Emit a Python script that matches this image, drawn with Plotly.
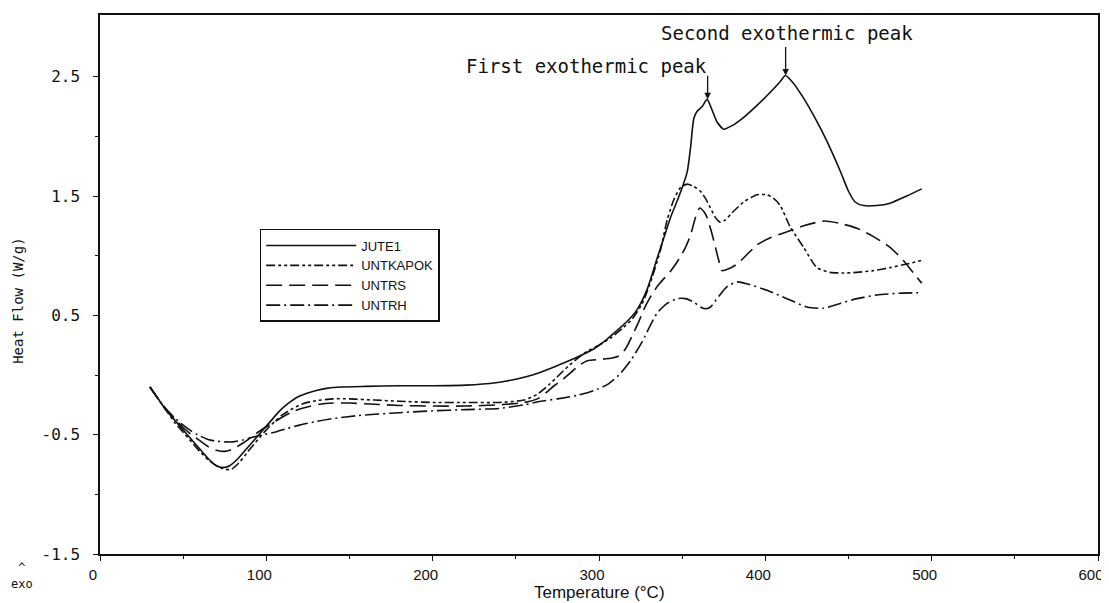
import plotly.graph_objects as go

# ---------------- data ----------------
jute1_t = [30, 35, 40, 45, 50, 55, 60, 65, 70, 74, 78, 83, 88, 93, 98, 103, 108, 113, 118, 124,
           130, 137, 145, 160, 180, 200, 220, 238, 250, 260, 268, 276, 283, 290, 297, 304, 311,
           317, 323, 329, 335, 339, 343, 347, 350, 353, 355, 357, 359, 362, 365, 368, 371, 375,
           380, 387, 395, 403, 409, 412, 416, 423, 430, 437, 445, 450, 454, 459, 467, 475, 485,
           494]
jute1_hf = [-0.10, -0.20, -0.30, -0.38, -0.46, -0.54, -0.62, -0.70, -0.76, -0.775, -0.76, -0.70,
            -0.62, -0.54, -0.46, -0.38, -0.30, -0.24, -0.19, -0.155, -0.13, -0.11, -0.10, -0.095,
            -0.09, -0.09, -0.085, -0.065, -0.035, 0.0, 0.04, 0.085, 0.125, 0.17, 0.22, 0.29, 0.375,
            0.45, 0.55, 0.72, 0.98, 1.15, 1.32, 1.46, 1.57, 1.70, 1.90, 2.15, 2.21, 2.25, 2.31,
            2.22, 2.12, 2.06, 2.09, 2.16, 2.26, 2.37, 2.46, 2.51, 2.46, 2.32, 2.15, 1.96, 1.71,
            1.54, 1.45, 1.42, 1.42, 1.44, 1.50, 1.56]

kapok_t = [30, 35, 40, 45, 50, 55, 60, 65, 70, 75, 79, 84, 89, 95, 100, 105, 110, 116, 122, 130,
           140, 150, 165, 180, 200, 220, 240, 255, 263, 270, 276, 282, 288, 293, 300, 307, 314,
           320, 326, 332, 337, 341, 345, 349, 353, 357, 361, 364, 367, 370, 373, 376, 380, 387,
           395, 401, 405, 409, 415, 423, 431, 439, 447, 455, 465, 475, 485, 494]
kapok_hf = [-0.10, -0.20, -0.30, -0.40, -0.48, -0.56, -0.64, -0.71, -0.76, -0.79, -0.79, -0.73,
            -0.64, -0.54, -0.46, -0.39, -0.33, -0.28, -0.24, -0.215, -0.20, -0.20, -0.21, -0.22,
            -0.23, -0.23, -0.23, -0.21, -0.16, -0.08, 0.0, 0.08, 0.15, 0.20, 0.25, 0.31, 0.39,
            0.47, 0.60, 0.82, 1.05, 1.30, 1.47, 1.57, 1.60, 1.58, 1.54, 1.48, 1.40, 1.32, 1.28,
            1.30, 1.36, 1.45, 1.51, 1.51, 1.48, 1.42, 1.24, 1.07, 0.90, 0.86, 0.855, 0.86, 0.875,
            0.90, 0.93, 0.96]

untrs_t = [30, 35, 40, 45, 50, 55, 60, 65, 70, 75, 80, 86, 92, 98, 104, 110, 117, 124, 132, 140,
           150, 165, 180, 200, 220, 240, 255, 263, 268, 273, 278, 283, 288, 293, 300, 307, 312,
           316, 320, 324, 328, 332, 336, 343, 348, 352, 355, 358, 360.5, 363, 365, 368, 370, 372,
           374, 378, 383, 389, 395, 403, 411, 423, 435, 445, 455, 465, 475, 483, 491, 494]
untrs_hf = [-0.10, -0.20, -0.29, -0.37, -0.44, -0.50, -0.55, -0.60, -0.63, -0.64, -0.62, -0.57,
            -0.51, -0.45, -0.40, -0.35, -0.30, -0.27, -0.245, -0.235, -0.235, -0.245, -0.255,
            -0.26, -0.26, -0.25, -0.23, -0.20, -0.15, -0.09, -0.04, 0.02, 0.08, 0.12, 0.13, 0.14,
            0.16, 0.22, 0.33, 0.45, 0.58, 0.68, 0.76, 0.87, 0.97, 1.07, 1.17, 1.32, 1.40, 1.37,
            1.32, 1.18, 1.07, 0.96, 0.875, 0.89, 0.93, 1.01, 1.09, 1.15, 1.19, 1.25, 1.29, 1.27,
            1.23, 1.16, 1.07, 0.96, 0.82, 0.77]

untrh_t = [30, 35, 40, 45, 50, 55, 60, 65, 70, 75, 80, 86, 92, 98, 105, 112, 120, 130, 140, 155,
           175, 200, 220, 240, 255, 265, 275, 287, 297, 305, 312, 319, 326, 331, 335, 341, 347,
           352, 357, 361, 364, 367, 372, 377, 383, 390, 401, 413, 425, 435, 445, 455, 467, 480,
           494]
untrh_hf = [-0.10, -0.20, -0.29, -0.36, -0.42, -0.47, -0.51, -0.54, -0.555, -0.56, -0.56, -0.545,
            -0.52, -0.50, -0.48, -0.45, -0.42, -0.39, -0.365, -0.34, -0.32, -0.30, -0.29, -0.28,
            -0.25, -0.22, -0.20, -0.17, -0.13, -0.08, 0.0, 0.12, 0.28, 0.42, 0.52, 0.60, 0.64,
            0.64, 0.61, 0.57, 0.555, 0.57, 0.66, 0.74, 0.78, 0.76, 0.71, 0.64, 0.57, 0.56, 0.60,
            0.64, 0.67, 0.685, 0.69]

series_names = ["JUTE1", "UNTKAPOK", "UNTRS", "UNTRH"]

x_ticks = [0, 100, 200, 300, 400, 500, 600]
x_minor = [50, 150, 250, 350, 450, 550]
y_ticks = [-1.5, -0.5, 0.5, 1.5, 2.5]
y_tick_text = ["-1.5", "-0.5", "0.5", "1.5", "2.5"]
y_minor = [-1.0, 0.0, 1.0, 2.0]

first_peak = (365.3, 2.31)
second_peak = (412.2, 2.51)

# ---------------- figure ----------------
INK = "#111111"
MONO = "DejaVu Sans Mono, Liberation Mono, monospace"
SANS = "Liberation Sans Narrow, Liberation Sans, Arial, sans-serif"

styles = [
    dict(dash="solid", width=1.6),
    dict(dash="9px,3px,3px,3px,3px,3px", width=1.6),
    dict(dash="16px,7px", width=1.6),
    dict(dash="14px,4px,2px,4px", width=1.6),
]
xs = [jute1_t, kapok_t, untrs_t, untrh_t]
ys = [jute1_hf, kapok_hf, untrs_hf, untrh_hf]

fig = go.Figure()
for name, x, y, st in zip(series_names, xs, ys, styles):
    fig.add_trace(go.Scatter(
        x=x, y=y, mode="lines", name=name,
        line=dict(color=INK, width=st["width"], dash=st["dash"], shape="spline", smoothing=0.6),
    ))

# page body adds an 8px margin, so the figure is sized/offset to compensate
fig.update_layout(
    width=1101, height=595,
    margin=dict(l=92, r=7, t=5, b=49),
    paper_bgcolor="white", plot_bgcolor="white",
    showlegend=True,
    legend=dict(
        x=0.16, y=0.603, xanchor="left", yanchor="top",
        bordercolor=INK, borderwidth=1.5, bgcolor="white",
        font=dict(family="Liberation Sans, Arial, sans-serif", size=13, color=INK),
        itemwidth=90, tracegroupgap=0,
    ),
    font=dict(color=INK),
)

fig.update_xaxes(
    range=[0, 600], tickmode="array", tickvals=x_ticks,
    ticks="outside", ticklen=5, tickwidth=1.2, tickcolor=INK,
    showline=True, linecolor=INK, linewidth=1.5, mirror=True,
    showgrid=False, zeroline=False,
    tickfont=dict(family=SANS, size=15, color=INK),
    ticklabelstandoff=1, ticklabeloverflow="allow", ticklabelshift=-7,
    minor=dict(tickvals=x_minor, ticks="outside", ticklen=3, tickcolor=INK),
)
fig.update_yaxes(
    range=[-1.5, 3.017], tickmode="array", tickvals=y_ticks, ticktext=y_tick_text,
    ticks="outside", ticklen=5, tickwidth=1.2, tickcolor=INK,
    showline=True, linecolor=INK, linewidth=1.5, mirror=True,
    showgrid=False, zeroline=False,
    tickfont=dict(family=MONO, size=16, color=INK),
    ticklabelstandoff=10,
    minor=dict(tickvals=y_minor, ticks="outside", ticklen=3, tickcolor=INK),
)

# axis titles (placed as annotations to mimic the scanned layout)
fig.add_annotation(text="Temperature (°C)", xref="paper", yref="paper", x=0.5, y=-0.071,
                   showarrow=False, font=dict(family=SANS, size=17, color=INK),
                   xanchor="center", yanchor="middle")
fig.add_annotation(text="Heat Flow (W/g)", xref="paper", yref="paper", x=-0.082, y=0.47,
                   showarrow=False, textangle=-90, font=dict(family=MONO, size=14, color=INK),
                   xanchor="center", yanchor="middle")
fig.add_annotation(text="^<br>exo", xref="paper", yref="paper", x=-0.078, y=-0.04,
                   showarrow=False, font=dict(family=MONO, size=12, color=INK),
                   xanchor="center", yanchor="middle")

# peak arrows and labels
fig.add_annotation(x=first_peak[0], y=first_peak[1], text="", showarrow=True,
                   ax=0, ay=-25, arrowhead=2, arrowsize=1, arrowwidth=1.3, arrowcolor=INK,
                   standoff=0)
fig.add_annotation(x=second_peak[0], y=second_peak[1], text="", showarrow=True,
                   ax=0, ay=-30, arrowhead=2, arrowsize=1, arrowwidth=1.3, arrowcolor=INK,
                   standoff=0)
fig.add_annotation(text="First exothermic peak", x=first_peak[0] + 1, y=2.59,
                   showarrow=False, xanchor="right", yanchor="middle",
                   font=dict(family=MONO, size=19, color=INK))
fig.add_annotation(text="Second exothermic peak", x=second_peak[0] + 1, y=2.87,
                   showarrow=False, xanchor="center", yanchor="middle",
                   font=dict(family=MONO, size=19, color=INK))

fig.write_html("out.html")
